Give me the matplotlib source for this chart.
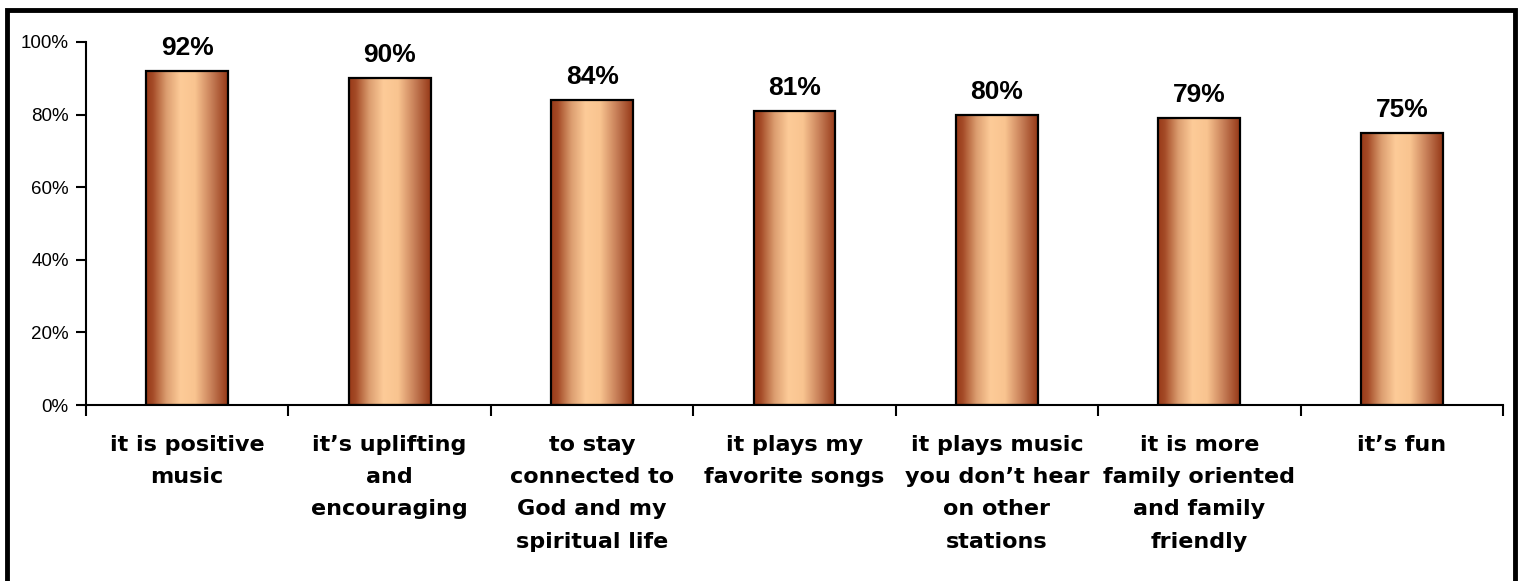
import numpy as np
import matplotlib
matplotlib.use("Agg")
import matplotlib.pyplot as plt
from matplotlib.colors import LinearSegmentedColormap
from matplotlib.ticker import FixedLocator, NullFormatter

categories = [
    "it is positive\nmusic",
    "it\u2019s uplifting\nand\nencouraging",
    "to stay\nconnected to\nGod and my\nspiritual life",
    "it plays my\nfavorite songs",
    "it plays music\nyou don\u2019t hear\non other\nstations",
    "it is more\nfamily oriented\nand family\nfriendly",
    "it\u2019s fun",
]
values = [92, 90, 84, 81, 80, 79, 75]
yticks = [0, 20, 40, 60, 80, 100]

plt.rcParams['font.family'] = ['Liberation Sans', 'DejaVu Sans']

W, H = 1518, 581
fig = plt.figure(figsize=(W / 100, H / 100), dpi=100)
ax = fig.add_axes([86 / W, 1 - 405 / H, (1503 - 86) / W, (405 - 42) / H])

# brown-peach cylinder look
cmap = LinearSegmentedColormap.from_list(
    "copper_tube", [(0.0, "#983a18"), (0.08, "#a44a26"), (0.25, "#dc9e70"),
                    (0.42, "#fdcb98"), (0.6, "#f9c490"), (0.82, "#c27852"),
                    (1.0, "#963817")])
grad = np.linspace(0, 1, 256).reshape(1, -1)

x = np.arange(len(categories))
bars = ax.bar(x, values, width=0.405, facecolor="none", edgecolor="black",
              linewidth=1.6, zorder=3)
for b, v in zip(bars, values):
    x0 = b.get_x()
    x1 = x0 + b.get_width()
    ax.imshow(grad, cmap=cmap, extent=(x0, x1, 0, v), aspect="auto",
              interpolation="bicubic", zorder=2)
    ax.text(b.get_x() + b.get_width() / 2, v + 3.0, f"{v}%", ha="center",
            va="bottom", fontsize=19, fontweight="bold")

ax.set_xlim(-0.5, len(categories) - 0.5)
ax.set_ylim(0, 100)
ax.set_yticks(yticks)
ax.set_yticklabels([f"{t}%" for t in yticks], fontsize=13.5)

# category boundaries carry the ticks, labels sit at the centres
ax.xaxis.set_major_locator(FixedLocator(np.arange(len(categories) + 1) - 0.5))
ax.xaxis.set_major_formatter(NullFormatter())
for xi, lab in zip(x, categories):
    ax.text(xi, -8.3, lab, ha="center", va="top", fontsize=16,
            fontweight="bold", family="DejaVu Sans", linespacing=1.76)

ax.tick_params(axis="y", direction="out", length=7, width=1.5, pad=5.5)
ax.tick_params(axis="x", direction="out", length=8, width=1.5)
for s in ["top", "right"]:
    ax.spines[s].set_visible(False)
for s in ["left", "bottom"]:
    ax.spines[s].set_linewidth(1.5)

# frame around the whole picture (open at the bottom edge)
frame = plt.Rectangle((7 / W, -0.05), (1515 - 7) / W, 1 - 9.5 / H + 0.05,
                      transform=fig.transFigure, fill=False,
                      edgecolor="black", linewidth=3.5)
fig.add_artist(frame)

fig.savefig("out.png", dpi=100)
